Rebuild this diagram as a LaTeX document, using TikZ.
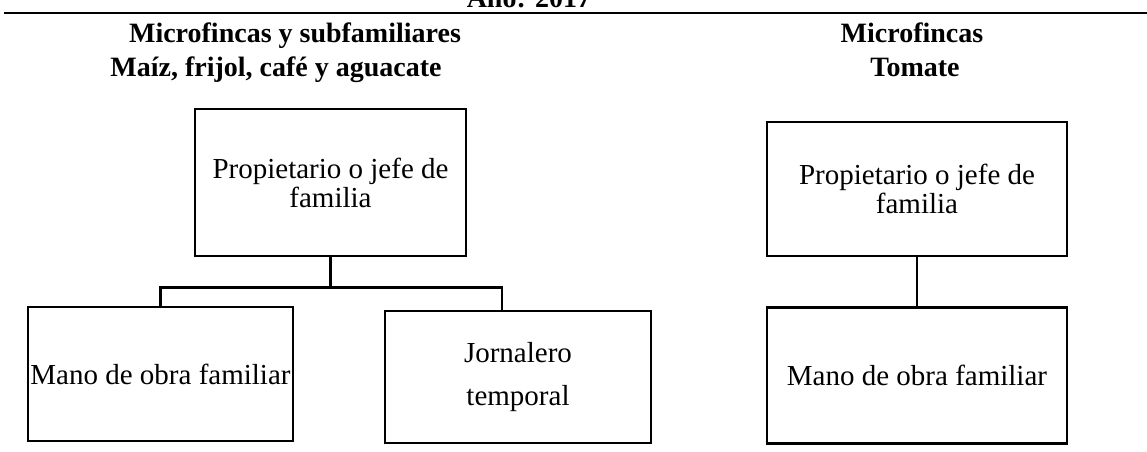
\documentclass[tikz,border=0pt]{standalone}
\usepackage{fontspec}
\setmainfont{Liberation Serif}
\usetikzlibrary{positioning}

\tikzset{
    box/.style={draw, line width=1.25pt, inner sep=0pt, align=center, font=\fontsize{14.5}{14.5}\selectfont},
    heading/.style={anchor=base, inner sep=0pt, font=\fontsize{14}{17}\selectfont\bfseries},
}

\begin{document}
\begin{tikzpicture}[x=0.5pt, y=-0.5pt, line width=1.25pt]
    \useasboundingbox (0, 0) rectangle (1147, 451);

    % draw year and top rule
    \node[heading] (year) at (529, 7) {Año: 2017};
    \draw[line width=0.8pt] (4, 13) -- (1147, 13);

    % draw headings
    \node[heading] (leftA)  at (295, 42) {Microfincas y subfamiliares};
    \node[heading] (leftB)  at (276, 76) {Maíz, frijol, café y aguacate};
    \node[heading] (rightA) at (912, 42) {Microfincas};
    \node[heading] (rightB) at (915, 76) {Tomate};

    % draw left chart
    \node[box, minimum width=135.5pt, minimum height=73.5pt] (p1) at (330.5, 182.5) {Propietario o jefe de\\familia};
    \node[box, minimum width=132.5pt, minimum height=67pt] (m1) at (160.5, 374) {Mano de obra familiar};
    \node[box, minimum width=133pt, minimum height=66pt] (j1) at (518, 377) {Jornalero\\[7pt]temporal};

    \draw (p1.south) -- ++(0, 30) coordinate (bus);
    \draw (m1.north) |- (bus) -| ([xshift=-8pt]j1.north);

    % draw right chart
    \node[box, minimum width=150pt, minimum height=67pt] (p2) at (917, 189) {Propietario o jefe de\\familia};
    \node[box, minimum width=150pt, minimum height=68pt, below=24.5pt of p2] (m2) {Mano de obra familiar};

    \draw (p2.south) -- (m2.north);

\end{tikzpicture}
\end{document}
